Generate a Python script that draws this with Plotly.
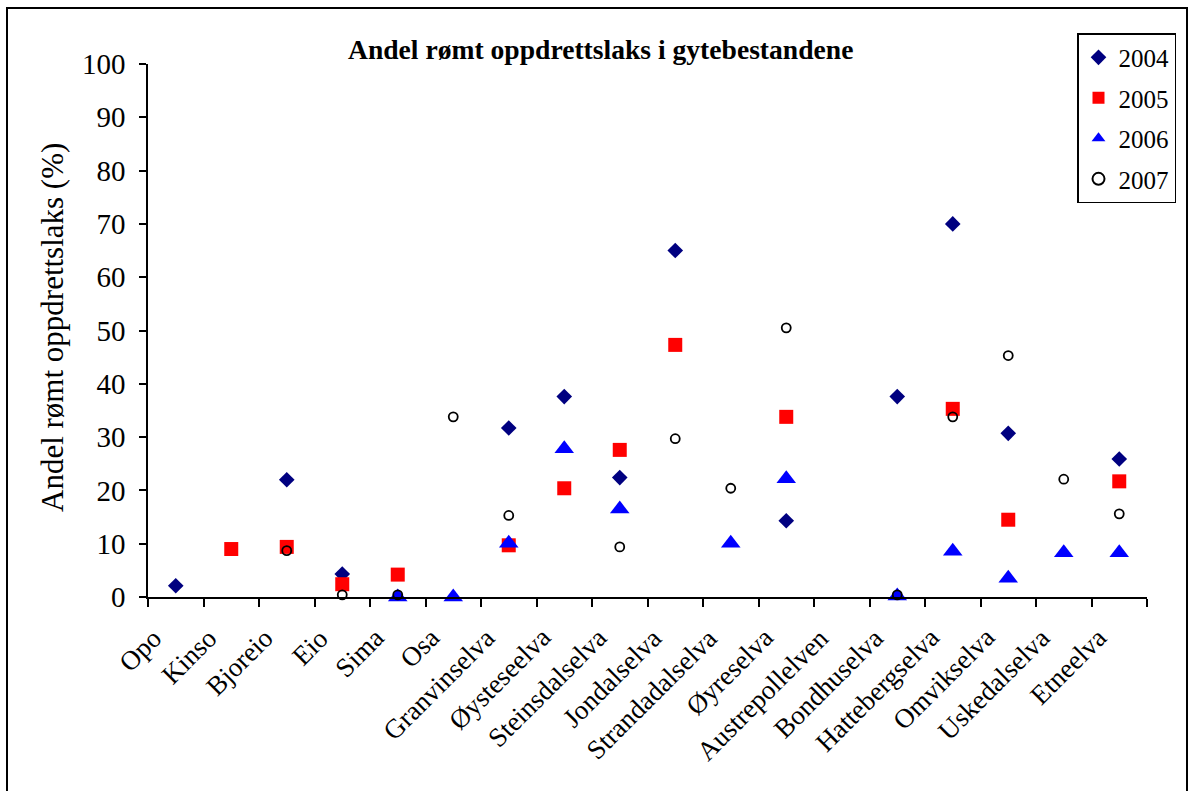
import plotly.graph_objects as go

categories = ["Opo", "Kinso", "Bjoreio", "Eio", "Sima", "Osa", "Granvinselva",
              "Øysteseelva", "Steinsdalselva", "Jondalselva", "Strandadalselva",
              "Øyreselva", "Austrepollelven", "Bondhuselva", "Hattebergselva",
              "Omvikselva", "Uskedalselva", "Etneelva"]

y2004 = [2.1, None, 22.0, 4.3, None, None, 31.7, 37.6, 22.4, 65.0, None, 14.3, None, 37.6, 70.0, 30.7, None, 25.9]
y2005 = [None, 9.0, 9.4, 2.4, 4.2, None, 9.7, 20.4, 27.6, 47.3, None, 33.8, None, None, 35.3, 14.5, None, 21.7]
y2006 = [None, None, None, None, 0.0, 0.0, 10.1, 27.8, 16.5, None, 10.1, 22.2, None, 0.2, 8.6, 3.5, 8.3, 8.3]
y2007 = [None, None, 8.7, 0.4, 0.4, 33.8, 15.3, None, 9.4, 29.7, 20.4, 50.5, None, 0.4, 33.8, 45.3, 22.1, 15.6]

y_ticks = [0, 10, 20, 30, 40, 50, 60, 70, 80, 90, 100]

SERIF = "Liberation Serif"

fig = go.Figure()
fig.add_trace(go.Scatter(x=categories, y=y2004, mode="markers", name="2004", legendgroup="a",
                         marker=dict(symbol="diamond", size=12, color="#000080",
                                     line=dict(width=0)), cliponaxis=False))
fig.add_trace(go.Scatter(x=categories, y=y2005, mode="markers", name="2005", legendgroup="b",
                         marker=dict(symbol="square", size=14, color="#FF0000",
                                     line=dict(width=0)), cliponaxis=False))
fig.add_trace(go.Scatter(x=categories, y=y2006, mode="markers", name="2006", legendgroup="c",
                         marker=dict(symbol="triangle-up", size=17, color="#0000FF",
                                     line=dict(width=0)), cliponaxis=False))
fig.add_trace(go.Scatter(x=categories, y=y2007, mode="markers", name="2007", legendgroup="d",
                         marker=dict(symbol="circle-open", size=9, color="#000000",
                                     line=dict(width=1.8, color="#000000")), cliponaxis=False))

L, R, T, B = 148, 1190 - 1147, 64, 791 - 597
fig.update_layout(
    width=1190, height=791,
    margin=dict(l=L, r=R, t=T, b=B, autoexpand=False),
    paper_bgcolor="white", plot_bgcolor="white",
    font=dict(family=SERIF, color="black"),
    showlegend=True,
    legend=dict(x=(1077 - L) / 999, y=1.058, xanchor="left", yanchor="top",
                bordercolor="black", borderwidth=1.5, bgcolor="white",
                font=dict(family=SERIF, size=25, color="black"),
                itemsizing="constant", traceorder="grouped", tracegroupgap=5),
)
fig.update_xaxes(type="category", categoryorder="array", categoryarray=categories,
                 range=[-0.5, len(categories) - 0.5],
                 showline=True, linecolor="black", linewidth=1.5,
                 ticks="outside", tickson="boundaries", ticklen=8, tickwidth=1.5,
                 tickcolor="black", showticklabels=False,
                 showgrid=False, zeroline=False, fixedrange=True)
fig.update_yaxes(range=[0, 100], tickvals=y_ticks, ticktext=[str(v) for v in y_ticks],
                 showline=True, linecolor="black", linewidth=1.5,
                 ticks="outside", ticklen=7, tickwidth=1.5, tickcolor="black",
                 ticklabelstandoff=8,
                 tickfont=dict(family=SERIF, size=29, color="black"),
                 showgrid=False, zeroline=False, fixedrange=True)

# rotated category labels
for c in categories:
    fig.add_annotation(text=c, xref="x", yref="paper", x=c, y=0,
                       xanchor="right", yanchor="top", textangle=-45,
                       xshift=-5, yshift=-23, showarrow=False,
                       font=dict(family=SERIF, size=27, color="black"))

# axis title
fig.add_annotation(text="Andel rømt oppdrettslaks (%)", xref="paper", yref="paper",
                   x=(52 - L) / 999, y=(597 - 328) / 533, textangle=-90,
                   showarrow=False, xanchor="center", yanchor="middle",
                   font=dict(family=SERIF, size=31, color="black"))
# chart title
fig.add_annotation(text="<b>Andel rømt oppdrettslaks i gytebestandene</b>",
                   xref="paper", yref="paper",
                   x=(600 - L) / 999, y=(597 - 50) / 533,
                   showarrow=False, xanchor="center", yanchor="middle",
                   font=dict(family=SERIF, size=27.6, color="black"))
# outer chart border
fig.add_shape(type="rect", xref="paper", yref="paper",
              x0=(7 - L) / 999, x1=(1187 - L) / 999,
              y0=(597 - 800) / 533, y1=(597 - 8) / 533,
              line=dict(color="black", width=2), fillcolor="rgba(0,0,0,0)", layer="below")

fig.write_html("out.html", config={"displayModeBar": False},
               post_script="document.body.style.margin='0';document.body.style.overflow='hidden';")
